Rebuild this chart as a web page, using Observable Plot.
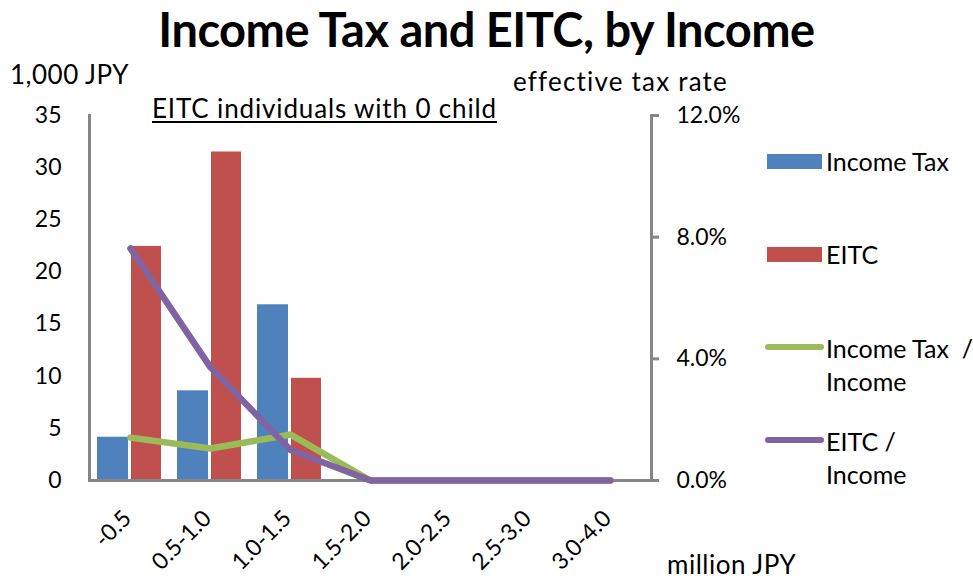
<!DOCTYPE html>
<html>
<head>
<meta charset="utf-8">
<script src="https://cdn.jsdelivr.net/npm/d3@7"></script>
<script src="https://cdn.jsdelivr.net/npm/@observablehq/plot@0.6"></script>
<style>
  html, body { margin: 0; padding: 0; background: #fff; }
  #wrap { position: relative; width: 973px; height: 585px; font-family: Lato, "Noto Sans", sans-serif; color: #000; overflow: hidden; }
  #wrap svg { position: absolute; left: 0; top: 0; }
  .lab { position: absolute; white-space: nowrap; font-size: 26px; line-height: 1; }
  .title { position: absolute; left: 0; width: 973px; top: 0px; text-align: center; font-weight: 700; font-size: 47px; letter-spacing: -0.5px; line-height: 1.25; }
  .leg { position: absolute; font-size: 25px; line-height: 33px; }
  .sw { position: absolute; }
</style>
</head>
<body>
<div id="wrap"></div>
<script>
const categories = ["-0.5", "0.5-1.0", "1.0-1.5", "1.5-2.0", "2.0-2.5", "2.5-3.0", "3.0-4.0"];
const incomeTax = [4.15, 8.6, 16.85, 0, 0, 0, 0];      // 1,000 JPY
const eitc = [22.45, 31.5, 9.8, 0, 0, 0, 0];            // 1,000 JPY
const taxRate = [1.41, 1.05, 1.51, 0, 0, 0, 0];         // % of income
const eitcRate = [7.63, 3.72, 1.0, 0, 0, 0, 0];         // % of income
const leftTicks = [0, 5, 10, 15, 20, 25, 30, 35];
const rightTicks = [0, 4, 8, 12];

const colors = { tax: "#4F81BD", eitc: "#C0504D", taxRate: "#9BBB59", eitcRate: "#8064A2" };
const leftMax = 35, rightMax = 12;
const toLeft = p => p * leftMax / rightMax;

const rows = categories.map((c, i) => ({ c, tax: incomeTax[i], eitc: eitc[i], tr: toLeft(taxRate[i]), er: toLeft(eitcRate[i]) }));

const plot = Plot.plot({
  width: 973,
  height: 585,
  marginTop: 115,
  marginBottom: 105,
  marginLeft: 89,
  marginRight: 322,
  style: { fontFamily: "Lato, 'Noto Sans', sans-serif", fontSize: "23px", color: "#000", background: "transparent" },
  x: { type: "band", domain: categories, padding: 0 },
  y: { domain: [0, leftMax] },
  marks: [
    Plot.barY(rows, { x: "c", y: "tax", fill: colors.tax, insetLeft: 7, insetRight: 42 }),
    Plot.barY(rows, { x: "c", y: "eitc", fill: colors.eitc, insetLeft: 41, insetRight: 9 }),
    Plot.frame({ anchor: "left", stroke: "#868686", strokeWidth: 3, strokeOpacity: 1 }),
    Plot.frame({ anchor: "right", stroke: "#868686", strokeWidth: 3, strokeOpacity: 1 }),
    Plot.ruleY([0], { stroke: "#868686", strokeWidth: 3 }),
    Plot.line(rows, { x: "c", y: "tr", stroke: colors.taxRate, strokeWidth: 6.5, strokeLinecap: "round", strokeLinejoin: "miter" }),
    Plot.line(rows, { x: "c", y: "er", stroke: colors.eitcRate, strokeWidth: 6.5, strokeLinecap: "round", strokeLinejoin: "miter" }),
    Plot.axisY({ ticks: leftTicks, tickSize: 0, tickPadding: 28, label: null, fontSize: 23 }),
    Plot.axisY({ anchor: "right", ticks: rightTicks.map(toLeft), tickFormat: d => (d * rightMax / leftMax).toFixed(1) + "%", tickSize: 7, tickPadding: 18, stroke: "#868686", strokeWidth: 3, strokeOpacity: 1, label: null, fontSize: 23 }),
    Plot.axisX({ tickSize: 0, tickRotate: -45, tickPadding: 34, dx: -3, label: null, fontSize: 23 })
  ]
});

const wrap = document.getElementById("wrap");
wrap.appendChild(plot);

function add(cls, text, style) {
  const d = document.createElement("div");
  d.className = cls;
  d.innerHTML = text;
  Object.assign(d.style, style);
  wrap.appendChild(d);
  return d;
}
add("title", "Income Tax and EITC, by Income", {});
add("lab", "1,000 JPY", { left: "10px", top: "61px", letterSpacing: "0.5px" });
add("lab", "effective tax rate", { left: "513px", top: "68px", letterSpacing: "1.2px" });
add("lab", "million JPY", { left: "667px", top: "551px", letterSpacing: "0.5px" });
add("lab", "EITC individuals with 0 child", { left: "152px", top: "95px", letterSpacing: "0.85px", textDecoration: "underline", textUnderlineOffset: "3px" });

// legend
add("sw", "", { left: "767px", top: "154px", width: "55px", height: "15px", background: colors.tax });
add("leg", "Income Tax", { left: "826px", top: "145px" });
add("sw", "", { left: "767px", top: "247px", width: "55px", height: "15px", background: colors.eitc });
add("leg", "EITC", { left: "826px", top: "238px" });
add("sw", "", { left: "765px", top: "344px", width: "59px", height: "6px", background: colors.taxRate, borderRadius: "3px" });
add("leg", "Income Tax &nbsp;/<br>Income", { left: "826px", top: "332px" });
add("sw", "", { left: "765px", top: "437px", width: "59px", height: "6px", background: colors.eitcRate, borderRadius: "3px" });
add("leg", "EITC /<br>Income", { left: "826px", top: "425px" });
</script>
</body>
</html>
